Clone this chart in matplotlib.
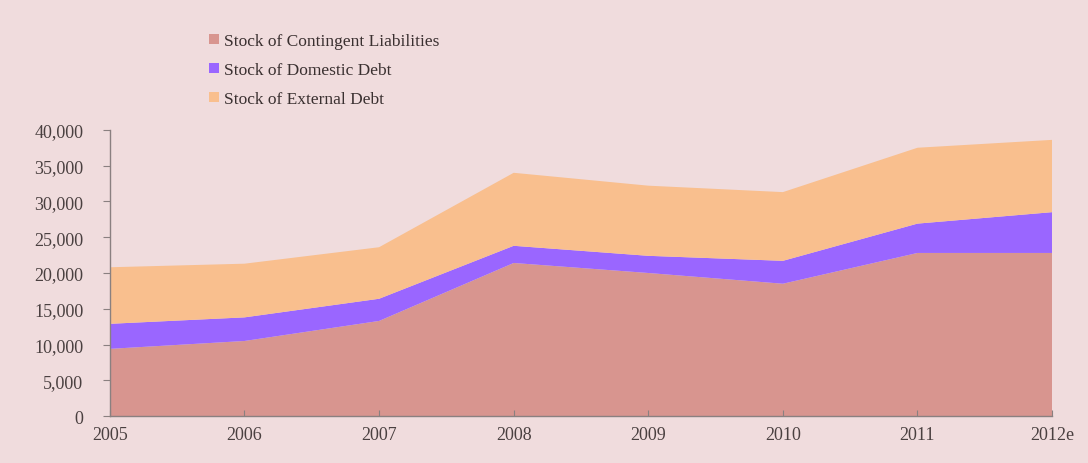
import numpy as np
import matplotlib.pyplot as plt
from matplotlib.ticker import FuncFormatter

years = ["2005", "2006", "2007", "2008", "2009", "2010", "2011", "2012e"]
contingent = [9400, 10500, 13300, 21400, 20000, 18500, 22800, 22800]
domestic = [3500, 3300, 3100, 2400, 2400, 3200, 4100, 5700]
external = [7900, 7500, 7200, 10200, 9800, 9600, 10600, 10100]
labels = ["Stock of Contingent Liabilities", "Stock of Domestic Debt",
          "Stock of External Debt"]
colors = ["#d8958f", "#9a66ff", "#f9bf8e"]
bg = "#f0dcdd"

plt.rcParams['font.family'] = ['Liberation Serif', 'DejaVu Serif']

fig = plt.figure(figsize=(10.88, 4.64), dpi=100, facecolor=bg)
ax = fig.add_axes([0.101, 0.101, 0.866, 0.617])
ax.set_facecolor(bg)

x = np.arange(len(years))
polys = ax.stackplot(x, contingent, domestic, external, colors=colors,
                     labels=labels, linewidth=0)

ax.set_xlim(0, len(years) - 1)
ax.set_ylim(0, 40000)
ax.set_yticks(np.arange(0, 40001, 5000))
ax.yaxis.set_major_formatter(FuncFormatter(lambda v, p: f"{int(v):,}"))
ax.set_xticks(x)
ax.set_xticklabels(years)

for s in ["top", "right"]:
    ax.spines[s].set_visible(False)
for s in ["left", "bottom"]:
    ax.spines[s].set_color("#8a8080")
    ax.spines[s].set_linewidth(1.0)

ax.tick_params(axis="y", direction="out", length=5, color="#8a8080",
               labelsize=13, labelcolor="#4a4040", pad=14)
ax.tick_params(axis="x", direction="in", length=4, color="#8a8080",
               labelsize=13, labelcolor="#4a4040", pad=7)

fig.legend(handles=polys, labels=labels, loc="upper left",
           bbox_to_anchor=(0.178, 0.96), frameon=False, fontsize=12.5,
           handlelength=0.55, handleheight=0.55, handletextpad=0.3,
           labelspacing=0.75, labelcolor="#3a3030")

fig.savefig("out.png", dpi=100, facecolor=bg)
